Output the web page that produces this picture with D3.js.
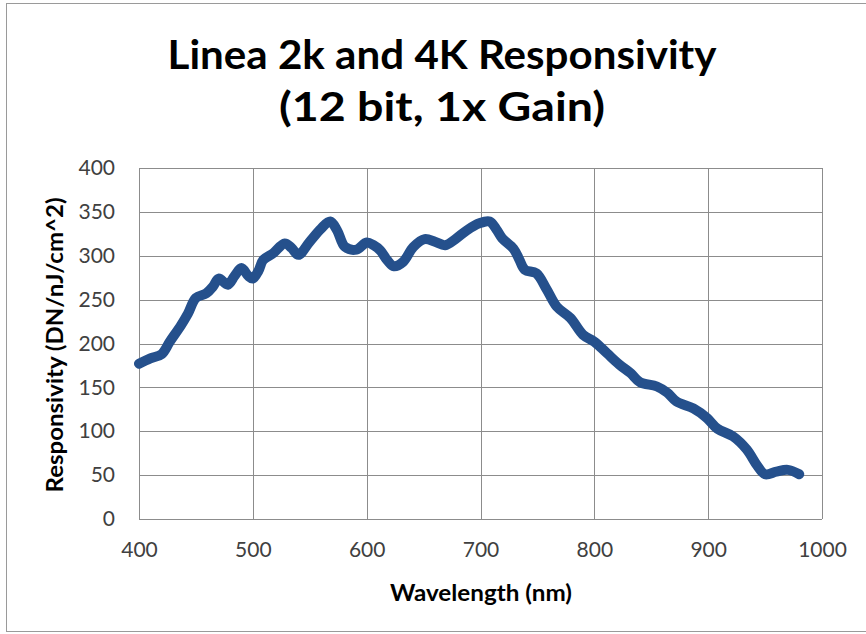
<!DOCTYPE html>
<html>
<head>
<meta charset="utf-8">
<script src="https://cdn.jsdelivr.net/npm/d3@7"></script>
<style>
  html, body { margin: 0; padding: 0; background: #ffffff; }
  svg { display: block; }
</style>
</head>
<body>
<svg id="chart" width="866" height="634"></svg>
<script>
// ---- data ----
const titleLines = ["Linea 2k and 4K Responsivity", "(12 bit, 1x Gain)"];
const xAxisTitle = "Wavelength (nm)";
const yAxisTitle = "Responsivity (DN/nJ/cm^2)";
const xTicks = [400, 500, 600, 700, 800, 900, 1000];
const yTicks = [0, 50, 100, 150, 200, 250, 300, 350, 400];
const wavelength = [400, 410, 420, 427, 437, 443, 450, 459, 465, 470, 478, 484, 490, 496, 500,
  505, 509, 518, 528, 534, 540, 550, 560, 568, 574, 581, 591, 600, 606, 612, 618, 624, 632,
  641, 651, 660, 669, 678, 688, 699, 708, 714, 719, 729, 734, 739, 749, 758, 767, 779, 790,
  800, 811, 822, 832, 840, 855, 864, 872, 887, 899, 908, 922, 934, 943, 950, 960, 970, 980];
const responsivity = [177, 183, 188, 202, 221, 234, 252, 257, 265, 274, 267, 277, 286, 277, 274,
  283, 295, 303, 314, 309, 301, 316, 331, 339, 329, 310, 307, 315, 312, 306, 295, 288, 293,
  310, 319, 316, 312, 319, 329, 337, 339, 330, 320, 308, 296, 284, 280, 262, 242, 229, 210,
  202, 189, 176, 166, 156, 151, 144, 134, 126, 115, 103, 94, 79, 61, 51, 54, 56, 51];

// ---- layout ----
const svg = d3.select("#chart");
const plot = { left: 139, right: 822, top: 168, bottom: 519 };
const x = d3.scaleLinear().domain([400, 1000]).range([plot.left, plot.right]);
const y = d3.scaleLinear().domain([0, 400]).range([plot.bottom, plot.top]);
const gridColor = "#8c8c8c";
const font = "Lato, 'Open Sans', sans-serif";

// outer chart border
svg.append("rect").attr("x", 6.5).attr("y", 3.5).attr("width", 900).attr("height", 628)
  .attr("fill", "#fff").attr("stroke", "#9a9a9a").attr("stroke-width", 1);

// title
const titleG = svg.append("g");
const titleBase = [69, 121];
const titleWidth = [549, 326];
titleLines.forEach((t, i) => {
  const el = titleG.append("text")
    .attr("x", 442).attr("y", titleBase[i])
    .attr("text-anchor", "middle")
    .attr("font-family", font).attr("font-weight", "bold")
    .attr("font-size", 40).attr("fill", "#000")
    .text(t);
  el.attr("textLength", titleWidth[i]).attr("lengthAdjust", "spacingAndGlyphs");
});

// gridlines
const gridG = svg.append("g").attr("shape-rendering", "crispEdges");
gridG.selectAll("line.h").data(yTicks).join("line").attr("class", "h")
  .attr("x1", plot.left).attr("x2", plot.right)
  .attr("y1", d => Math.round(y(d)) + 0.5).attr("y2", d => Math.round(y(d)) + 0.5)
  .attr("stroke", gridColor).attr("stroke-width", 1);
gridG.selectAll("line.v").data(xTicks).join("line").attr("class", "v")
  .attr("y1", plot.top).attr("y2", plot.bottom)
  .attr("x1", d => Math.round(x(d)) + 0.5).attr("x2", d => Math.round(x(d)) + 0.5)
  .attr("stroke", gridColor).attr("stroke-width", 1);

// axes (labels only, via d3 axes)
const xAxis = d3.axisBottom(x).tickValues(xTicks).tickSize(0).tickPadding(23).tickFormat(d3.format("d"));
const yAxis = d3.axisLeft(y).tickValues(yTicks).tickSize(0).tickPadding(24).tickFormat(d3.format("d"));
const gx = svg.append("g").attr("transform", `translate(0,${plot.bottom})`).call(xAxis);
const gy = svg.append("g").attr("transform", `translate(${plot.left},0)`).call(yAxis);
[gx, gy].forEach(g => {
  g.select(".domain").remove();
  g.selectAll("text").attr("font-family", font).attr("font-size", 21).attr("fill", "#404040");
});

// axis titles
svg.append("text").attr("x", 481).attr("y", 601)
  .attr("text-anchor", "middle").attr("font-family", font).attr("font-weight", "bold")
  .attr("font-size", 23).attr("fill", "#000")
  .attr("textLength", 182).attr("lengthAdjust", "spacingAndGlyphs")
  .text(xAxisTitle);
svg.append("text")
  .attr("transform", `translate(63,345) rotate(-90)`)
  .attr("text-anchor", "middle").attr("font-family", font).attr("font-weight", "bold")
  .attr("font-size", 23).attr("fill", "#000")
  .attr("textLength", 295).attr("lengthAdjust", "spacingAndGlyphs")
  .text(yAxisTitle);

// data line
const pts = wavelength.map((w, i) => [w, responsivity[i]]);
const line = d3.line().x(d => x(d[0])).y(d => y(d[1])).curve(d3.curveCatmullRom.alpha(0.5));
svg.append("path").datum(pts)
  .attr("d", line)
  .attr("fill", "none")
  .attr("stroke", "#25508c")
  .attr("stroke-width", 10)
  .attr("stroke-linecap", "round")
  .attr("stroke-linejoin", "round");
</script>
</body>
</html>
